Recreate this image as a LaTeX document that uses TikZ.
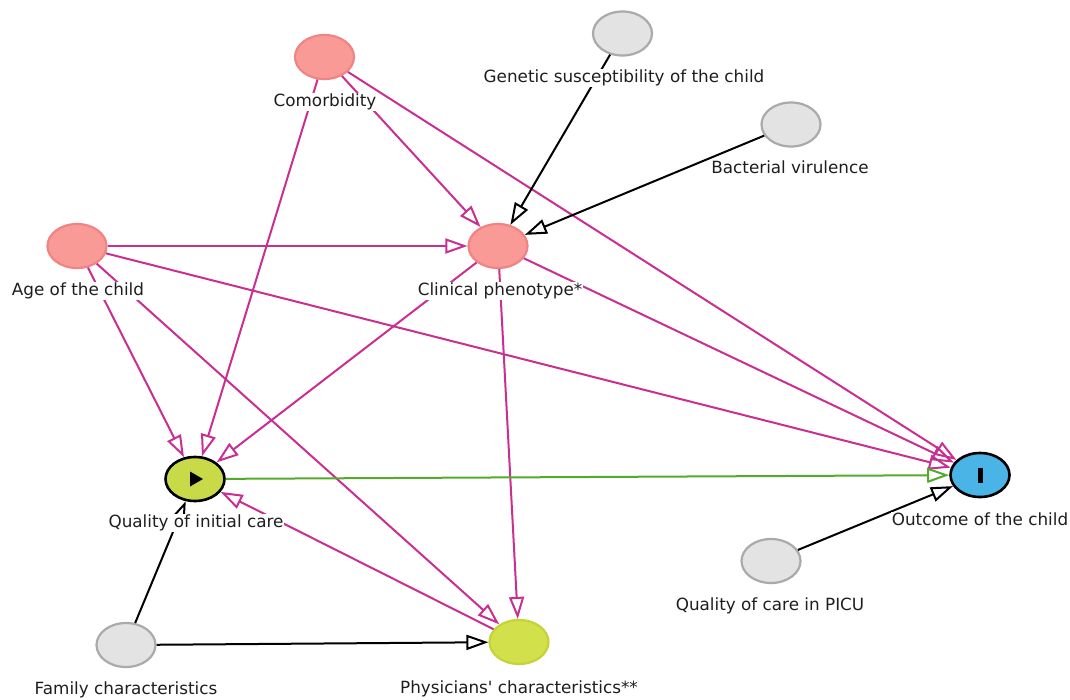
\documentclass[tikz,border=0pt]{standalone}
\usepackage{fontspec}
\setmainfont{DejaVu Sans}[Ligatures=TeXOff]
\usetikzlibrary{arrows.meta,shapes.geometric}
\definecolor{pinkedge}{HTML}{C92F91}
\definecolor{greenedge}{HTML}{55AA2C}
\definecolor{conffill}{HTML}{FA9A96}
\definecolor{confdraw}{HTML}{F08484}
\definecolor{grayfill}{HTML}{E3E3E3}
\definecolor{graydraw}{HTML}{AAAAAA}
\definecolor{expofill}{HTML}{C8DA48}
\definecolor{physfill}{HTML}{D2E04C}
\definecolor{physdraw}{HTML}{C2D436}
\definecolor{outfill}{HTML}{4BB4E6}
\definecolor{labtext}{HTML}{1E1E1E}
\tikzset{
  dagnode/.style={ellipse, minimum width=59pt, minimum height=44pt, inner sep=0pt, line width=2.2pt},
  conf/.style={dagnode, fill=conffill, draw=confdraw},
  latent/.style={dagnode, fill=grayfill, draw=graydraw},
  expo/.style={dagnode, fill=expofill, draw=black, line width=2.6pt},
  outc/.style={dagnode, fill=outfill, draw=black, line width=2.6pt},
  phys/.style={dagnode, fill=physfill, draw=physdraw},
  lab/.style={fill=white, inner sep=1pt, text=labtext, font=\fontsize{16.8}{19}\selectfont, text height=12.5pt, text depth=3.5pt},
  tip/.style={-{Triangle[open,length=22pt,width=15pt]}},
  pe/.style={draw=pinkedge, line width=2pt, tip},
  ge/.style={draw=greenedge, line width=2pt, tip},
  be/.style={draw=black, line width=2pt, tip}
}
\begin{document}
\begin{tikzpicture}[x=1pt,y=-1pt]
\useasboundingbox[fill=white] (0,0) rectangle (1070,699);
% nodes
\node[conf] (com) at (324.5,57) {};
\node[latent] (gen) at (622.5,33.5) {};
\node[latent] (bac) at (791,124.5) {};
\node[conf] (age) at (77,246) {};
\node[conf] (cli) at (498,246) {};
\node[expo] (qi) at (195,479) {};
\node[outc] (oc) at (980,475) {};
\node[latent] (picu) at (771,561) {};
\node[latent] (fam) at (126,645) {};
\node[phys] (phy) at (519,642) {};
% icons
\fill[black] ([shift={(-5,-7.5)}]qi.center) -- ([shift={(8,0)}]qi.center) -- ([shift={(-5,7.5)}]qi.center) -- cycle;
\fill[black] ([shift={(-2.5,-7.5)}]oc.center) rectangle ([shift={(2.5,7.5)}]oc.center);
% edges
\draw[pe] (com) -- (qi);
\draw[pe] (com) -- (cli);
\draw[pe] (com) -- (oc);
\draw[be] (gen) -- (cli);
\draw[be] (bac) -- (cli);
\draw[pe] (age) -- (cli);
\draw[pe] (age) -- (qi);
\draw[pe] (age) -- (phy);
\draw[pe] (age) -- (oc);
\draw[pe] (cli) -- (qi);
\draw[pe] (cli) -- (phy);
\draw[pe] (cli) -- (oc);
\draw[ge] (qi) -- (oc);
\draw[pe] (phy) -- (qi);
\draw[be] (fam) -- (qi);
\draw[be] (fam) -- (phy);
\draw[be] (picu) -- (oc);
% labels
\node[lab] (comL) at (325,102) {Comorbidity};
\node[lab] (genL) at (624,78) {Genetic susceptibility of the child};
\node[lab] (bacL) at (790,169) {Bacterial virulence};
\node[lab] (ageL) at (78,291) {Age of the child};
\node[lab] (cliL) at (500,291) {Clinical phenotype*};
\node[lab] (qiL) at (196,523) {Quality of initial care};
\node[lab] (ocL) at (980,521) {Outcome of the child};
\node[lab] (picuL) at (770,606) {Quality of care in PICU};
\node[lab] (famL) at (126,690) {Family characteristics};
\node[lab] (phyL) at (519,689) {Physicians' characteristics**};
\end{tikzpicture}
\end{document}
